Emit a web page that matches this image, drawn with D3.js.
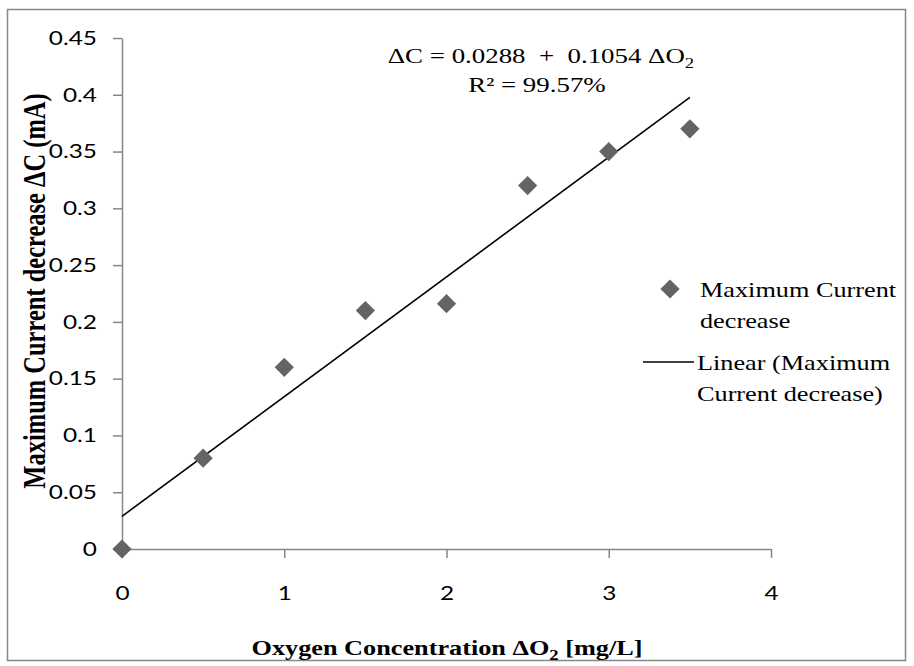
<!DOCTYPE html>
<html><head><meta charset="utf-8">
<script src="https://cdn.jsdelivr.net/npm/d3@7"></script>
<style>body{margin:0;background:#fff} text{white-space:pre}</style>
</head><body>
<svg id="c" width="914" height="666"></svg>
<script>
const xValues = [0, 0.5, 1, 1.5, 2, 2.5, 3, 3.5];
const yValues = [0, 0.08, 0.16, 0.21, 0.216, 0.32, 0.35, 0.37];
const xTicks = [0, 1, 2, 3, 4];
const yTicks = [0, 0.05, 0.1, 0.15, 0.2, 0.25, 0.3, 0.35, 0.4, 0.45];
const fitIntercept = 0.0288;
const fitSlope = 0.1054;
const fitRange = [0, 3.5];

const K = 1.25; // horizontal stretch of glyphs in the reference
const svg = d3.select("#c");
svg.append("rect").attr("x",7.5).attr("y",9.5).attr("width",898).attr("height",651)
  .attr("fill","#fff").attr("stroke","#888").attr("stroke-width",1.5);

const x = d3.scaleLinear().domain([0,4]).range([122,771]);
const y = d3.scaleLinear().domain([0,0.45]).range([549,38]);
const axisColor = "#868686";
const tickFont = "Lato, 'Open Sans', sans-serif";

const gx = svg.append("g").attr("transform","translate(0,549)")
  .call(d3.axisBottom(x).tickValues(xTicks).tickFormat(d3.format("d")).tickSize(9).tickSizeOuter(0).tickPadding(28));
const gy = svg.append("g").attr("transform","translate(122,0)")
  .call(d3.axisLeft(y).tickValues(yTicks).tickFormat(d => d===0 ? "0" : String(+d.toFixed(2))).tickSize(9).tickSizeOuter(0).tickPadding(16));
[gx,gy].forEach(g=>{
  g.select(".domain").attr("stroke",axisColor).attr("stroke-width",1.5);
  g.selectAll(".tick line").attr("stroke",axisColor).attr("stroke-width",1.5);
  g.selectAll(".tick text").attr("fill","#000").style("font-family",tickFont).style("font-size","19.5px")
    .each(function(){
      const t = d3.select(this);
      const tx = +t.attr("x") || 0, ty = +t.attr("y") || 0;
      t.attr("x",0).attr("y",0).attr("transform",`translate(${tx},${ty}) scale(${K},1)`);
    });
});

// trend line
const line = d3.line().x(d=>x(d)).y(d=>y(fitIntercept+fitSlope*d));
svg.append("path").datum(fitRange).attr("d",line).attr("stroke","#000").attr("stroke-width",1.6).attr("fill","none");

// markers
svg.selectAll(".pt").data(xValues.map((v,i)=>[v,yValues[i]])).enter().append("rect")
  .attr("x",-6.8).attr("y",-6.8).attr("width",13.6).attr("height",13.6)
  .attr("transform",d=>`translate(${x(d[0])},${y(d[1])}) rotate(45)`)
  .attr("fill","#646464");

const serif = "'Liberation Serif', 'Times New Roman', serif";
function stext(px, py, size, anchor, extra){
  const t = svg.append("text").attr("transform",`translate(${px},${py}) scale(${K},1)`)
    .attr("text-anchor",anchor).style("font-family",serif).style("font-size",size+"px");
  if (extra) t.style("font-weight",extra);
  return t;
}
// equation
const eq = stext(541, 63, 21.5, "middle");
eq.append("tspan").text("ΔC = 0.0288  +  0.1054 ΔO");
eq.append("tspan").attr("dy",5).style("font-size","15px").text("2");
stext(537, 92, 21.5, "middle").text("R² = 99.57%");

// axis titles
const xt = stext(447, 655, 21, "middle", "bold");
xt.append("tspan").text("Oxygen Concentration ΔO");
xt.append("tspan").attr("dy",5).style("font-size","15px").text("2");
xt.append("tspan").attr("dy",-5).text(" [mg/L]");

svg.append("text").attr("transform",`translate(45,291) rotate(-90) scale(1,${K})`).attr("text-anchor","middle")
  .style("font-family",serif).style("font-size","24.5px").style("font-weight","bold")
  .text("Maximum Current decrease ΔC (mA)");

// legend
svg.append("rect").attr("x",-6.8).attr("y",-6.8).attr("width",13.6).attr("height",13.6)
  .attr("transform","translate(670,289) rotate(45)").attr("fill","#646464");
stext(700, 297, 21, "start").text("Maximum Current");
stext(700, 328, 21, "start").text("decrease");
svg.append("line").attr("x1",643).attr("x2",694).attr("y1",362).attr("y2",362).attr("stroke","#000").attr("stroke-width",1.6);
stext(697, 370, 21, "start").text("Linear (Maximum");
stext(697, 401, 21, "start").text("Current decrease)");
</script>
</body></html>
